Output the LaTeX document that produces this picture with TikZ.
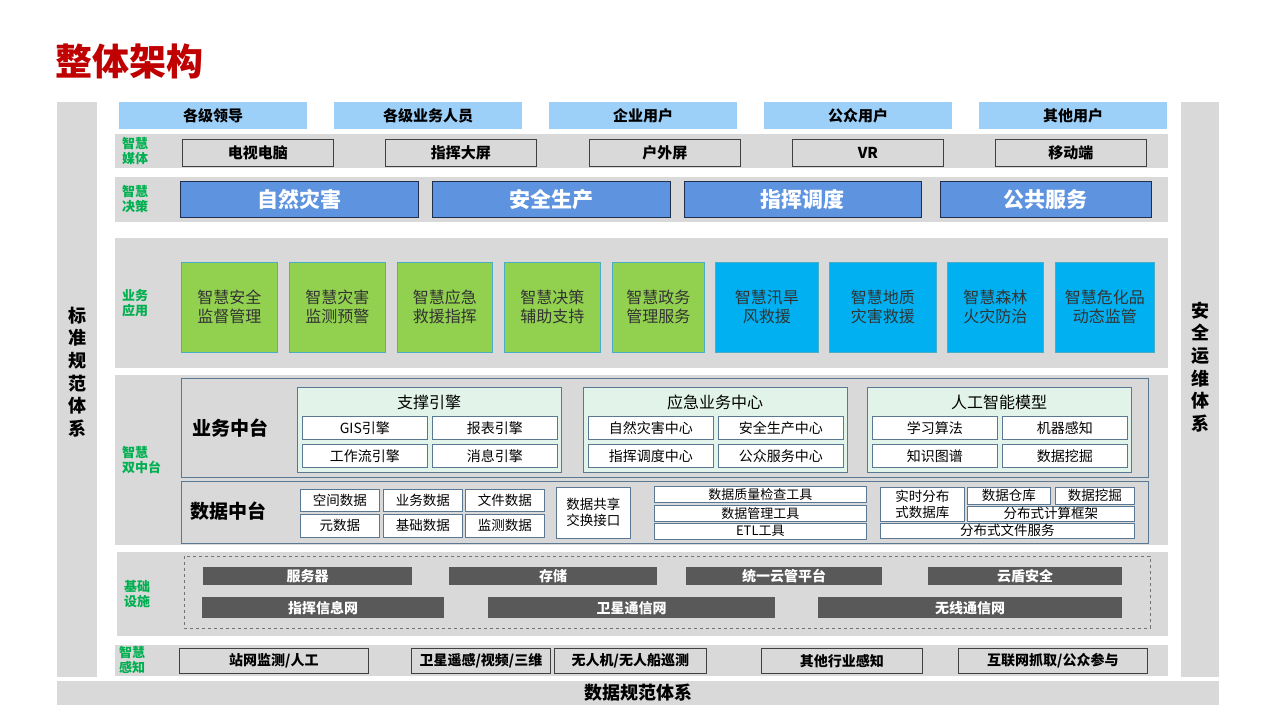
\documentclass[tikz,border=0pt]{standalone}
\usepackage{fontspec}
\setmainfont{Noto Sans CJK SC}
\usetikzlibrary{positioning}
\definecolor{bandgray}{HTML}{D9D9D9}
\definecolor{userblue}{HTML}{9DD0F8}
\definecolor{decblue}{HTML}{5E93E0}
\definecolor{decline}{HTML}{1F2F50}
\definecolor{appgreen}{HTML}{92D050}
\definecolor{appblue}{HTML}{00B0F0}
\definecolor{appline}{HTML}{4BACC6}
\definecolor{mint}{HTML}{E2F4EA}
\definecolor{slate}{HTML}{5A7894}
\definecolor{darkbox}{HTML}{595959}
\definecolor{lblgreen}{HTML}{00B050}
\definecolor{titlered}{HTML}{C00000}
\newcommand\fsz[2]{\fontsize{#1}{#2}\selectfont}

\begin{document}
\begin{tikzpicture}[x=1pt,y=-1pt,
  every node/.style={inner sep=0pt},
  lbl/.style={anchor=west,align=left,text=lblgreen,font=\fsz{13}{15}\bfseries},
  userbox/.style={anchor=north west,fill=userblue,minimum width=188pt,minimum height=27pt,font=\fsz{15}{18}\bfseries},
  mediabox/.style={anchor=north west,draw=black!75,fill=bandgray,line width=0.8pt,minimum width=151pt,minimum height=27pt,font=\fsz{15}{18}\bfseries},
  decbox/.style={anchor=north west,draw=decline,fill=decblue,line width=0.8pt,minimum height=36pt,text=white,font=\fsz{21}{24}\bfseries},
  appbox/.style={anchor=north west,draw=appline,line width=0.6pt,minimum height=90pt,align=center,text=black!80,font=\fsz{16}{19}},
  midbox/.style={anchor=north west,draw=slate,fill=bandgray,line width=1pt,minimum width=967pt},
  midtitle/.style={font=\fsz{19}{22}\bfseries},
  grpbox/.style={anchor=north west,draw=slate,fill=mint,line width=0.8pt,minimum width=264pt,minimum height=85pt},
  subbox/.style={anchor=north west,draw=slate,fill=white,line width=0.6pt,minimum width=125pt,minimum height=23pt,font=\fsz{14}{16}},
  dsub/.style={anchor=north west,draw=slate,fill=white,line width=0.6pt,font=\fsz{13.5}{16}},
  infra/.style={anchor=north west,fill=darkbox,text=white,font=\fsz{14}{16}\bfseries},
  sensebox/.style={anchor=north west,draw=black!75,fill=bandgray,line width=0.8pt,minimum height=25pt,font=\fsz{14}{16}\bfseries},
  vtext/.style={align=center,font=\fsz{18}{22.6}\bfseries}]
  \fill[white] (0,0) rectangle (1280,720);
  \useasboundingbox (0,0) rectangle (1280,720);

  \node[anchor=west,text=titlered,font=\fsz{37}{40}\bfseries] (title) at (55,61) {整体架构};

  % side and bottom bars
  \fill[bandgray] (57,102) rectangle (97,677);
  \fill[bandgray] (1181,102) rectangle (1219,677);
  \fill[bandgray] (57,681) rectangle (1219,705);
  \node[vtext] (stdsys) at (77,372) {标\\准\\规\\范\\体\\系};
  \node[vtext] (secsys) at (1200,367) {安\\全\\运\\维\\体\\系};
  \node[font=\fsz{18}{20}\bfseries] (datasys) at (638,693) {数据规范体系};

  % users
  \foreach \xa/\txt [count=\k] in {119/各级领导,334/各级业务人员,549/企业用户,764/公众用户,979/其他用户}
    \node[userbox] (user\k) at (\xa,102) {\txt};

  % media
  \fill[bandgray] (115,134) rectangle (1168,168);
  \node[lbl] (lblmedia) at (122,151) {智慧\\媒体};
  \foreach \xa/\txt [count=\k] in {182/电视电脑,385/指挥大屏,589/户外屏,792/VR,995/移动端}
    \node[mediabox] (media\k) at (\xa,139) {\txt};

  % decision
  \fill[bandgray] (115,177) rectangle (1168,222);
  \node[lbl] (lbldec) at (122,199) {智慧\\决策};
  \foreach \xa/\w/\txt [count=\k] in {180/238/自然灾害,432/238/安全生产,684/237/指挥调度,940/211/公共服务}
    \node[decbox,minimum width=\w pt] (dec\k) at (\xa,181) {\txt};

  % applications
  \fill[bandgray] (115,238) rectangle (1168,368);
  \node[lbl] (lblapp) at (122,303) {业务\\应用};
  \foreach \xa/\w/\txt [count=\k] in {181/96/智慧安全\\监督管理,289/96/智慧灾害\\监测预警,397/95/智慧应急\\救援指挥,504/96/智慧决策\\辅助支持,612/92/智慧政务\\管理服务}
    \node[appbox,fill=appgreen,minimum width=\w pt] (appg\k) at (\xa,262) {\txt};
  \foreach \xa/\w/\txt [count=\k] in {715/103/智慧汛旱\\风救援,829/107/智慧地质\\灾害救援,947/96/智慧森林\\火灾防治,1055/99/智慧危化品\\动态监管}
    \node[appbox,fill=appblue,minimum width=\w pt] (appb\k) at (\xa,262) {\txt};

  % double middle platform
  \fill[bandgray] (115,375) rectangle (1168,545);
  \node[lbl] (lblmid) at (122,460) {智慧\\双中台};
  \node[midbox,minimum height=99pt] (bizmid) at (181,378) {};
  \node[midtitle] (biztitle) at (230,428) {业务中台};
  \foreach \xa/\ttl/\a/\b/\c/\d [count=\g] in {297/支撑引擎/GIS引擎/报表引擎/工作流引擎/消息引擎,583/应急业务中心/自然灾害中心/安全生产中心/指挥调度中心/公众服务中心,867/人工智能模型/学习算法/机器感知/知识图谱/数据挖掘}{
    \node[grpbox] (grp\g) at (\xa,387) {};
    \node[font=\fsz{16}{18}] (grptitle\g) at (\xa+132,402) {\ttl};
    \node[subbox] (grp\g-a) at (\xa+5,416) {\a};
    \node[subbox] (grp\g-b) at (\xa+135,416) {\b};
    \node[subbox] (grp\g-c) at (\xa+5,444) {\c};
    \node[subbox] (grp\g-d) at (\xa+135,444) {\d};
  }

  \node[midbox,minimum height=62pt] (datamid) at (181,481) {};
  \node[midtitle] (datatitle) at (228,511) {数据中台};
  \foreach \xa/\a/\b [count=\k] in {300/空间数据/元数据,383/业务数据/基础数据,465/文件数据/监测数据}{
    \node[dsub,minimum width=79pt,minimum height=22pt] (dtop\k) at (\xa,489) {\a};
    \node[dsub,minimum width=79pt,minimum height=23pt] (dbot\k) at (\xa,514) {\b};
  }
  \node[dsub,align=center,minimum width=74pt,minimum height=51pt] (share) at (556,487) {数据共享\\交换接口};
  \foreach \ya/\txt [count=\k] in {486/数据质量检查工具,505/数据管理工具,523/ETL工具}
    \node[dsub,font=\fsz{13}{15},minimum width=212pt,minimum height=15.5pt] (tool\k) at (654,\ya) {\txt};
  \begin{scope}[every node/.append style={font=\fsz{13}{16}}]
    \node[dsub,align=left,minimum width=84pt,minimum height=34pt] (rtdb) at (880,487) {实时分布\\式数据库};
    \node[dsub,minimum width=83pt,minimum height=17pt] (dwh) at (967,487) {数据仓库};
    \node[dsub,minimum width=79pt,minimum height=17pt] (dmine) at (1055,487) {数据挖掘};
    \node[dsub,minimum width=167pt,minimum height=15pt] (dcomp) at (967,506) {分布式计算框架};
    \node[dsub,minimum width=254pt,minimum height=15pt] (dfile) at (880,523) {分布式文件服务};
  \end{scope}

  % infrastructure
  \fill[bandgray] (117,552) rectangle (1168,636);
  \draw[dashed,black!55,line width=0.7pt] (184,556) rectangle (1150,628);
  \node[lbl] (lblinfra) at (124,594) {基础\\设施};
  \foreach \xa/\w/\txt [count=\k] in {203/209/服务器,449/208/存储,686/196/统一云管平台,928/194/云盾安全}
    \node[infra,minimum width=\w pt,minimum height=18pt] (infa\k) at (\xa,567) {\txt};
  \foreach \xa/\w/\txt [count=\k] in {202/242/指挥信息网,488/287/卫星通信网,818/304/无线通信网}
    \node[infra,minimum width=\w pt,minimum height=21pt] (infb\k) at (\xa,597) {\txt};

  % sensing
  \fill[bandgray] (115,645) rectangle (1168,676);
  \node[lbl] (lblsense) at (119,660) {智慧\\感知};
  \foreach \xa/\w/\txt [count=\k] in {179/189/{站网监测/人工},411/139/{卫星遥感/视频/三维},554/152/{无人机/无人船巡测},761/161/其他行业感知,958/189/{互联网抓取/公众参与}}
    \node[sensebox,minimum width=\w pt] (sense\k) at (\xa,648) {\txt};
\end{tikzpicture}
\end{document}
